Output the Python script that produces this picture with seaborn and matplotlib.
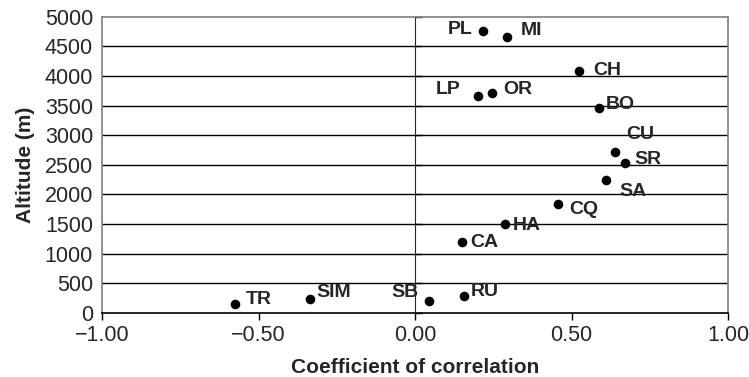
import matplotlib
matplotlib.use("Agg")
import matplotlib.pyplot as plt
import seaborn as sns
import pandas as pd

sites = ["PL", "MI", "CH", "LP", "OR", "BO", "CU", "SR", "SA", "CQ", "HA", "CA", "SB", "RU", "TR", "SIM"]
correlation = [0.217, 0.295, 0.525, 0.201, 0.245, 0.587, 0.640, 0.672, 0.610, 0.458, 0.286, 0.149, 0.044, 0.157, -0.576, -0.336]
altitude = [4764, 4652, 4084, 3662, 3718, 3465, 2722, 2526, 2244, 1839, 1507, 1198, 208, 292, 152, 236]

x_ticks = [-1.0, -0.5, 0.0, 0.5, 1.0]
x_tick_labels = ["\u22121.00", "\u22120.50", "0.00", "0.50", "1.00"]
y_ticks = [0, 500, 1000, 1500, 2000, 2500, 3000, 3500, 4000, 4500, 5000]

# label placement (pixel offsets from point, horizontal alignment)
label_offsets = {
    "PL": (-10, 1, "right"), "MI": (13, 7, "left"), "CH": (14, 0, "left"),
    "LP": (-17, 6, "right"), "OR": (12, 3, "left"), "BO": (7, 3, "left"),
    "CU": (11, 17, "left"), "SR": (9, 4, "left"), "SA": (13, -11, "left"),
    "CQ": (11, -5, "left"), "HA": (8, -2, "left"), "CA": (9, -1, "left"),
    "SB": (-10, 8, "right"), "RU": (7, 4, "left"), "TR": (11, 4, "left"),
    "SIM": (7, 7, "left"),
}

df = pd.DataFrame({"site": sites, "corr": correlation, "alt": altitude})

sns.set_style("white")
plt.rcParams["font.family"] = ["Liberation Sans", "DejaVu Sans"]

fig = plt.figure(figsize=(7.49, 3.77), dpi=100)
ax = fig.add_axes([0.1362, 0.1698, 0.9720 - 0.1362, 0.9557 - 0.1698])

ax.set_xlim(-1, 1)
ax.set_ylim(0, 5000)

for yv in y_ticks[1:-1]:
    ax.axhline(yv, color="black", lw=1.0, zorder=1)

sns.scatterplot(data=df, x="corr", y="alt", ax=ax, color="black", s=48,
                edgecolor="black", linewidth=0, zorder=3, legend=False)

for s, xv, yv in zip(df["site"], df["corr"], df["alt"]):
    dx, dy, ha = label_offsets[s]
    ax.annotate(s, (xv, yv), xytext=(dx, dy), textcoords="offset pixels",
                ha=ha, va="center", fontsize=14, fontweight="bold", zorder=4)

ax.set_xticks(x_ticks)
ax.set_xticklabels(x_tick_labels)
ax.set_yticks(y_ticks)
ax.tick_params(axis="x", direction="out", length=5, width=1, color="black",
               labelsize=15.5, pad=4, bottom=True)
ax.tick_params(axis="y", length=0, labelsize=15.5, pad=6.5, left=True)

for side in ["top", "right", "left"]:
    ax.spines[side].set_color("#7f7f7f")
    ax.spines[side].set_linewidth(1.2)
ax.spines["bottom"].set_color("black")
ax.spines["bottom"].set_linewidth(1.2)

# vertical axis at x = 0 with outward ticks
sec = ax.secondary_yaxis(0.5)
sec.set_yticks(y_ticks)
sec.set_yticklabels([])
sec.tick_params(axis="y", direction="out", length=5, width=1, color="black")
sec.spines["left"].set_color("black")
sec.spines["left"].set_linewidth(1.2)

ax.set_xlabel("Coefficient of correlation", fontsize=15, fontweight="bold", labelpad=8)
ax.set_ylabel("Altitude (m)", fontsize=15, fontweight="bold", labelpad=7)

fig.savefig("out.png", dpi=100)
